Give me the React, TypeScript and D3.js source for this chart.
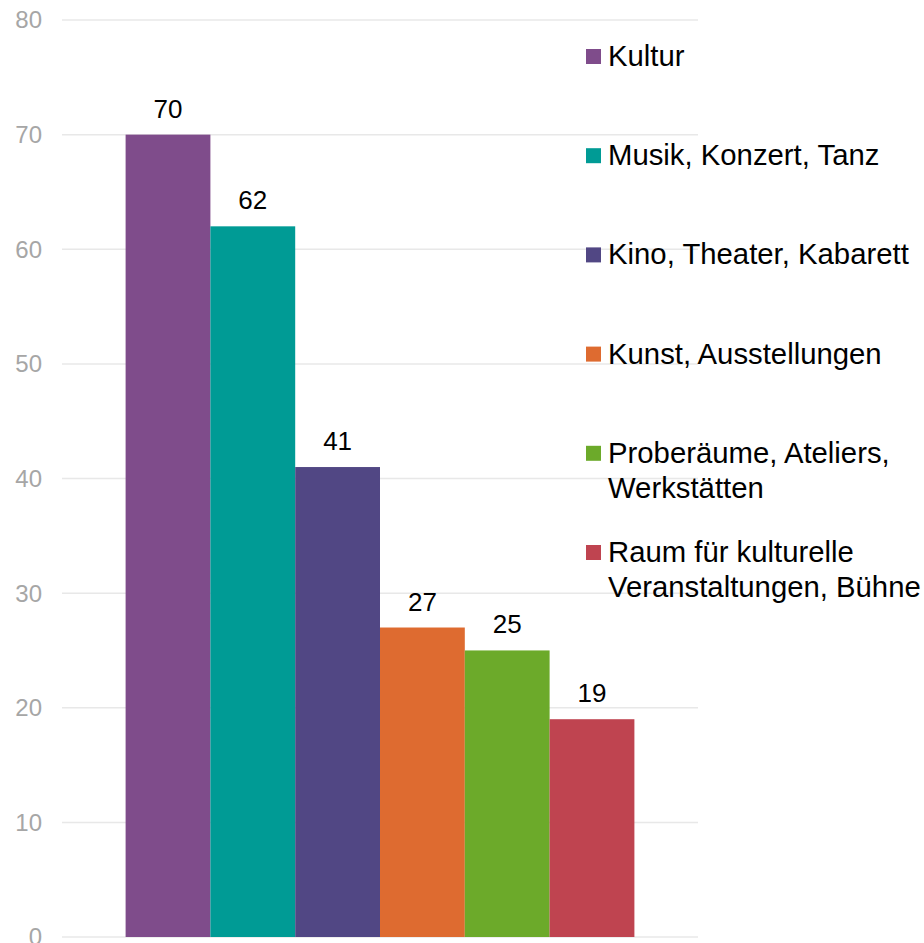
import React from 'react';
import * as d3 from 'd3';

const categories = [
  'Kultur',
  'Musik, Konzert, Tanz',
  'Kino, Theater, Kabarett',
  'Kunst, Ausstellungen',
  'Proberäume, Ateliers, Werkstätten',
  'Raum für kulturelle Veranstaltungen, Bühne'
];
const values = [70, 62, 41, 27, 25, 19];
const colors = ['#7f4c8b', '#009b95', '#514784', '#de6b30', '#6caa2a', '#bf4450'];
const legendLines = [
  ['Kultur'],
  ['Musik, Konzert, Tanz'],
  ['Kino, Theater, Kabarett'],
  ['Kunst, Ausstellungen'],
  ['Proberäume, Ateliers,', 'Werkstätten'],
  ['Raum für kulturelle', 'Veranstaltungen, Bühne']
];
const yTicks = [0, 10, 20, 30, 40, 50, 60, 70, 80];

const width = 924;
const height = 943;
const plot = { left: 62, right: 698, top: 20, bottom: 937 };
const font = '"Liberation Sans", Arial, Helvetica, sans-serif';

export default function App() {
  const x = d3.scaleBand<string>()
    .domain(categories)
    .range([plot.left, plot.right])
    .paddingInner(0)
    .paddingOuter(0.75);

  const y = d3.scaleLinear()
    .domain([0, 80])
    .range([plot.bottom, plot.top]);

  return (
    <svg width={width} height={height} style={{ position: 'absolute', left: 0, top: 0 }} fontFamily={font}>
      <rect width={width} height={height} fill="#fff" />
      {/* grid + y labels */}
      <g>
        {yTicks.map(t => (
          <g key={t}>
            <line x1={plot.left} x2={plot.right} y1={y(t)} y2={y(t)} stroke="#e8e8e8" strokeWidth={1.5} />
            <text x={42} y={y(t)} dy="0.35em" textAnchor="end" fontSize={24} fill="#a6a6a6">{t}</text>
          </g>
        ))}
      </g>
      {/* bars */}
      <g>
        {categories.map((c, i) => (
          <rect key={c} x={x(c)} y={y(values[i])} width={x.bandwidth()} height={y(0) - y(values[i])} fill={colors[i]} />
        ))}
      </g>
      {/* value labels */}
      <g>
        {categories.map((c, i) => (
          <text key={c} x={x(c)! + x.bandwidth() / 2} y={y(values[i]) - 17} textAnchor="middle" fontSize={26} fill="#000">
            {values[i]}
          </text>
        ))}
      </g>
      {/* legend */}
      <g>
        {legendLines.map((lines, i) => {
          const base = 66 + i * 99.2;
          return (
            <g key={i}>
              <rect x={586} y={base - 17} width={15} height={15} fill={colors[i]} />
              {lines.map((l, j) => (
                <text key={j} x={608} y={base + j * 35} fontSize={29.3} fill="#000">{l}</text>
              ))}
            </g>
          );
        })}
      </g>
    </svg>
  );
}
